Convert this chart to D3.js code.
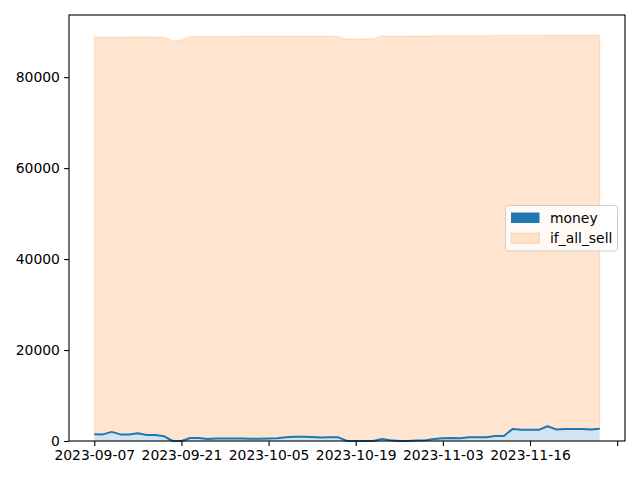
<!DOCTYPE html>
<html><head><meta charset="utf-8">
<script src="https://cdn.jsdelivr.net/npm/d3@7/dist/d3.min.js"></script>
<style>
body{margin:0;background:#fff}
svg{display:block}
text{font-family:"DejaVu Sans",sans-serif}
</style>
</head><body>
<svg id="chart" width="640" height="480"></svg>
<script>
// ---- data ----
const seriesNames = ["money", "if_all_sell"];
const money = [1500,1450,2000,1450,1450,1700,1300,1300,1050,0,
               0,650,650,450,550,550,550,550,520,520,
               560,600,800,950,950,900,750,850,800,0,
               0,0,0,450,150,0,0,100,150,450,
               600,650,600,800,800,800,1100,1100,2650,2450,
               2450,2450,3250,2550,2650,2650,2650,2550,2700];
const if_all_sell = [87300,87350,86800,87350,87400,87150,87550,87550,87700,87950,
                     88100,88300,88300,88500,88400,88400,88400,88450,88480,88480,
                     88440,88400,88200,88050,88050,88100,88250,88150,88150,88350,
                     88400,88400,88450,88650,88850,89000,89050,88950,88900,88600,
                     88500,88450,88500,88300,88300,88300,88050,88050,86500,86700,
                     86700,86700,85950,86650,86550,86550,86550,86650,86500];
const tickPositions = [0,10,20,30,40,50,60];
const tickLabels = ["2023-09-07","2023-09-21","2023-10-05","2023-10-19","2023-11-03","2023-11-16",""];
const yTicks = [0,20000,40000,60000,80000];

// ---- layout ----
const W = 640, H = 480;
const L = 69, R = 625, T = 15, B = 441;
const svg = d3.select("#chart");
const FS = 13.9;

const rows = money.map((m, i) => ({i, money: m, if_all_sell: if_all_sell[i]}));
const stacked = d3.stack().keys(seriesNames)(rows);
const n = money.length;
const xr = n - 1;
const x = d3.scaleLinear().domain([-0.05 * xr, xr * 1.05]).range([L, R]);
const ymax = d3.max(stacked[1], d => d[1]);
const y = d3.scaleLinear().domain([0, ymax * 1.05]).range([B, T]);

const blue = "#1f77b4", orange = "#ff7f0e";

const area = d3.area().x((d, i) => x(i)).y0(d => y(d[0])).y1(d => y(d[1]));

const g = svg.append("g");
// money fill
g.append("path").datum(stacked[0]).attr("d", area)
  .attr("fill", blue).attr("fill-opacity", 0.2).attr("stroke", "none");
// if_all_sell fill
g.append("path").datum(stacked[1]).attr("d", area)
  .attr("fill", orange).attr("fill-opacity", 0.2)
  .attr("stroke", orange).attr("stroke-opacity", 0.2).attr("stroke-width", 1);
// money line
g.append("path").datum(stacked[0])
  .attr("d", d3.line().x((d, i) => x(i)).y(d => y(d[1])))
  .attr("fill", "none").attr("stroke", blue).attr("stroke-width", 2)
  .attr("stroke-linejoin", "round");

// axes
const xAxis = d3.axisBottom(x).tickValues(tickPositions)
  .tickFormat((d, k) => tickLabels[k]).tickSize(4.9).tickPadding(4.2);
const yAxis = d3.axisLeft(y).tickValues(yTicks)
  .tickFormat(d3.format("d")).tickSize(4.9).tickPadding(4.2);

const gx = svg.append("g").attr("transform", `translate(0,${B})`).call(xAxis);
const gy = svg.append("g").attr("transform", `translate(${L},0)`).call(yAxis);
[gx, gy].forEach(ax => {
  ax.select(".domain").remove();
  ax.selectAll(".tick line").attr("stroke", "#000").attr("stroke-width", 1.1);
  ax.selectAll(".tick text").attr("fill", "#000").style("font-size", FS + "px")
    .style("font-family", "'DejaVu Sans', sans-serif");
});

// frame
svg.append("rect").attr("x", L).attr("y", T).attr("width", R - L).attr("height", B - T)
  .attr("fill", "none").attr("stroke", "#000").attr("stroke-width", 1.1);

// legend
const lg = svg.append("g");
lg.append("rect").attr("x", 505.5).attr("y", 205.5).attr("width", 112).attr("height", 45.5)
  .attr("rx", 2.8).attr("fill", "#fff").attr("fill-opacity", 0.8)
  .attr("stroke", "#cccccc").attr("stroke-width", 1);
const items = [
  {name: seriesNames[0], fill: blue, op: 1, stroke: "none"},
  {name: seriesNames[1], fill: orange, op: 0.2, stroke: orange}
];
items.forEach((it, k) => {
  const yy = 212.5 + k * 20.5;
  lg.append("rect").attr("x", 511).attr("y", yy).attr("width", 28.5).attr("height", 10.5)
    .attr("fill", it.fill).attr("fill-opacity", it.op)
    .attr("stroke", it.stroke).attr("stroke-opacity", 0.2);
  lg.append("text").attr("x", 550).attr("y", yy + 5.5).attr("dy", "0.35em")
    .style("font-size", FS + "px").attr("fill", "#000").text(it.name);
});
</script>
</body></html>
